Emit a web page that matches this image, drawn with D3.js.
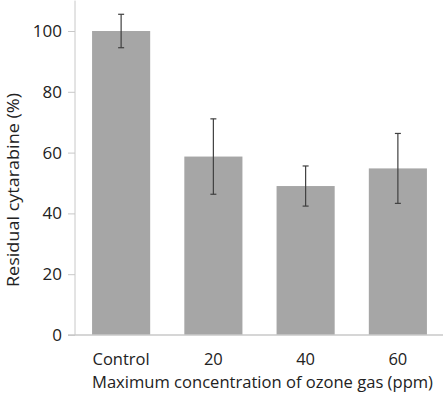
<!DOCTYPE html>
<html><head><meta charset="utf-8">
<script src="https://cdn.jsdelivr.net/npm/d3@7"></script>
<style>body{margin:0;background:#fff}svg{display:block}</style>
</head><body>
<script>
const categories = ["Control", "20", "40", "60"];
const values = [100, 58.7, 49.0, 54.8];
const errors = [5.5, 12.4, 6.6, 11.5];
const yTicks = [0, 20, 40, 60, 80, 100];

const W = 443, H = 405;
const svg = d3.select("body").append("svg").attr("width", W).attr("height", H);
const font = "'Open Sans', sans-serif";

const x = d3.scaleBand().domain(categories).range([75, 444]).paddingInner(0.37).paddingOuter(0.185);
const y = d3.scaleLinear().domain([0, 110]).range([335, 0.6]);

// y axis
const ya = svg.append("g").attr("transform", "translate(75,0)")
  .call(d3.axisLeft(y).tickValues(yTicks).tickSize(7).tickPadding(6).tickFormat(d3.format("d")));
ya.select(".domain").attr("stroke", "#c8c8c8").attr("d", `M0,${y(110)}V${y(0)}`);
ya.selectAll(".tick line").attr("stroke", "#c8c8c8");
ya.selectAll(".tick text").attr("font-family", font).attr("font-size", 17).attr("fill", "#222");

// bars
svg.selectAll("rect.bar").data(values).enter().append("rect")
  .attr("x", (d, i) => x(categories[i])).attr("width", x.bandwidth())
  .attr("y", d => y(d)).attr("height", d => y(0) - y(d)).attr("fill", "#a6a6a6");

// x axis line
svg.append("line").attr("x1", 68).attr("x2", 443).attr("y1", y(0)).attr("y2", y(0))
  .attr("stroke", "#c8c8c8").attr("stroke-width", 1.5);

// error bars
const eg = svg.append("g").attr("stroke", "#404040").attr("stroke-width", 1.2);
values.forEach((v, i) => {
  const cx = x(categories[i]) + x.bandwidth() / 2;
  eg.append("line").attr("x1", cx).attr("x2", cx).attr("y1", y(v + errors[i])).attr("y2", y(v - errors[i]));
  [v + errors[i], v - errors[i]].forEach(e => eg.append("line").attr("x1", cx - 3).attr("x2", cx + 3).attr("y1", y(e)).attr("y2", y(e)));
});

// x tick labels
svg.selectAll("text.xl").data(categories).enter().append("text")
  .attr("x", d => x(d) + x.bandwidth() / 2).attr("y", 365).attr("text-anchor", "middle")
  .attr("font-family", font).attr("font-size", 16.5).attr("fill", "#222").text(d => d);

svg.append("text").attr("x", 262.5).attr("y", 388).attr("text-anchor", "middle")
  .attr("font-family", font).attr("font-size", 16.5).attr("fill", "#222")
  .attr("textLength", 341).attr("lengthAdjust", "spacingAndGlyphs")
  .text("Maximum concentration of ozone gas (ppm)");

svg.append("text").attr("transform", "translate(18.5,190) rotate(-90)").attr("text-anchor", "middle")
  .attr("font-family", font).attr("font-size", 16.5).attr("fill", "#222")
  .attr("textLength", 194).attr("lengthAdjust", "spacingAndGlyphs")
  .text("Residual cytarabine (%)");
</script>
</body></html>
